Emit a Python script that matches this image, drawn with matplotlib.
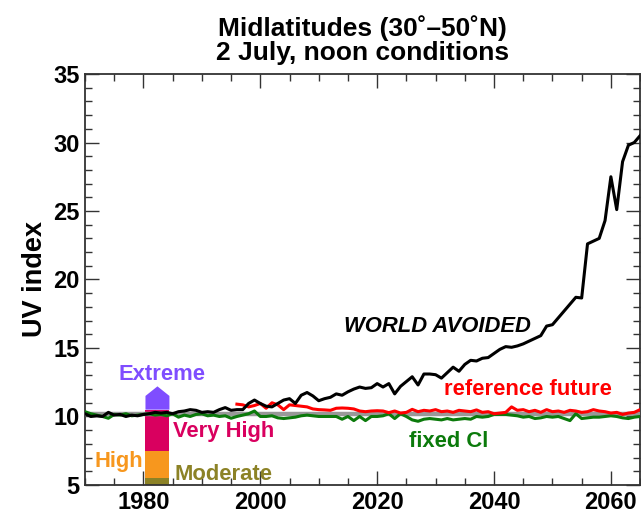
import matplotlib
matplotlib.use("Agg")
import matplotlib.pyplot as plt
from matplotlib.patches import Polygon
from matplotlib.ticker import MultipleLocator
import numpy as np

plt.rcParams['font.family'] = ['Liberation Sans', 'DejaVu Sans']
plt.rcParams['font.weight'] = 'bold'

years = np.arange(1970, 2066)
world_avoided = [
    10.2, 10.0, 10.05, 10.0, 10.3, 10.1, 10.15, 10.0, 10.1, 10.05,
    10.15, 10.2, 10.3, 10.25, 10.3, 10.2, 10.35, 10.4, 10.5, 10.45,
    10.3, 10.35, 10.3, 10.5, 10.65, 10.45, 10.5, 10.5, 10.95, 11.2,
    10.95, 10.75, 10.7, 10.95, 11.2, 11.3, 10.95, 11.55, 11.75, 11.5,
    11.15, 11.3, 11.4, 11.65, 11.55, 11.8, 12.0, 12.15, 12.05, 12.1,
    12.4, 12.15, 12.4, 11.65, 12.2, 12.55, 12.9, 12.3, 13.1, 13.1,
    13.05, 12.8, 13.2, 13.6, 13.3, 13.8, 14.1, 14.05, 14.25, 14.3,
    14.6, 14.9, 15.1, 15.05, 15.15, 15.3, 15.5, 15.7, 15.9, 16.6,
    16.7, 17.2, 17.7, 18.2, 18.7, 18.65, 22.6, 22.8, 23.0, 24.3,
    27.5, 25.1, 28.6, 29.8, 30.0, 30.5]

ref_years = np.arange(1996, 2066)
reference_future = [
    10.9, 10.85, 10.7, 10.8, 10.95, 10.6, 11.0, 10.85, 10.5, 10.85,
    10.8, 10.75, 10.7, 10.55, 10.5, 10.48, 10.45, 10.6, 10.62, 10.6,
    10.55, 10.4, 10.35, 10.4, 10.42, 10.4, 10.28, 10.4, 10.25, 10.3,
    10.52, 10.35, 10.45, 10.4, 10.5, 10.35, 10.4, 10.3, 10.45, 10.4,
    10.35, 10.48, 10.3, 10.35, 10.2, 10.25, 10.3, 10.7, 10.45, 10.5,
    10.35, 10.45, 10.3, 10.5, 10.35, 10.4, 10.3, 10.45, 10.4, 10.3,
    10.35, 10.5, 10.4, 10.35, 10.25, 10.3, 10.15, 10.25, 10.3, 10.5]

fixed_cl = [
    10.35, 10.2, 10.1, 10.0, 9.87, 10.15, 10.1, 10.2, 10.05, 10.1,
    10.15, 10.2, 10.1, 10.15, 10.05, 10.2, 9.95, 10.1, 10.0, 10.15,
    10.2, 10.05, 10.1, 10.0, 10.05, 9.87, 10.0, 10.1, 10.2, 10.4,
    10.0, 10.0, 10.05, 9.9, 9.85, 9.9, 9.95, 10.05, 10.1, 10.05,
    10.0, 10.0, 10.0, 10.0, 9.8, 10.0, 9.7, 10.0, 9.7, 10.0,
    10.0, 10.05, 10.2, 9.85, 10.2, 10.0, 9.75, 9.65, 9.8, 9.85,
    9.8, 9.75, 9.85, 9.75, 9.8, 9.85, 9.8, 10.0, 9.95, 10.0,
    10.15, 10.15, 10.15, 10.1, 10.05, 9.95, 10.0, 9.85, 9.9, 10.0,
    9.95, 10.0, 9.85, 9.7, 10.2, 9.85, 9.9, 9.95, 9.95, 10.0,
    10.05, 10.0, 9.9, 9.85, 9.95, 10.0]

baseline_uv = 10.18

uv_categories = ['Moderate', 'High', 'Very High', 'Extreme']
uv_bounds = [5.0, 5.5, 7.5, 10.5, 11.5]
uv_arrow_tip = 12.2
uv_colors = ['#8C8226', '#F7971E', '#D9005F', '#7F4DFF']
bar_center = 1982.4
bar_width = 4.1

fig = plt.figure(figsize=(6.41, 5.15), dpi=100)
ax = fig.add_axes([0.1326, 0.0583, 0.866, 0.798])

# UV category bar
for i in range(3):
    ax.bar(bar_center, uv_bounds[i + 1] - uv_bounds[i], bottom=uv_bounds[i],
           width=bar_width, color=uv_colors[i], linewidth=0, zorder=2)
x0, x1 = bar_center - bar_width / 2, bar_center + bar_width / 2
arrow = Polygon([(x0, uv_bounds[3]), (x1, uv_bounds[3]), (x1, uv_bounds[4]),
                 (bar_center, uv_arrow_tip), (x0, uv_bounds[4])],
                closed=True, facecolor=uv_colors[3], edgecolor='none', zorder=2)
ax.add_patch(arrow)

ax.axhline(baseline_uv, color='#999999', lw=3.2, zorder=3)
ax.plot(years, fixed_cl, color='#0B7A0B', lw=2.2, zorder=4)
ax.plot(ref_years, reference_future, color='#FF0000', lw=2.2, zorder=5)
ax.plot(years, world_avoided, color='black', lw=2.2, zorder=6)

fs = 15.8
ax.text(2030.3, 16.6, 'WORLD AVOIDED', color='black', fontsize=fs,
        fontweight='bold', style='italic', ha='center', va='center')
ax.text(2045.8, 12.0, 'reference future', color='#FF0000', fontsize=fs,
        fontweight='bold', ha='center', va='center')
ax.text(2032.2, 8.2, 'fixed Cl', color='#0B7A0B', fontsize=fs,
        fontweight='bold', ha='center', va='center')
ax.text(bar_center + 0.8, 13.1, 'Extreme', color=uv_colors[3], fontsize=fs,
        fontweight='bold', ha='center', va='center')
ax.text(1985.0, 8.87, 'Very High', color=uv_colors[2], fontsize=fs,
        fontweight='bold', ha='left', va='center')
ax.text(1979.9, 6.68, 'High', color=uv_colors[1], fontsize=fs,
        fontweight='bold', ha='right', va='center')
ax.text(1985.3, 5.8, 'Moderate', color=uv_colors[0], fontsize=fs,
        fontweight='bold', ha='left', va='center')

ax.set_xlim(1970, 2065)
ax.set_ylim(5, 35)
ax.xaxis.set_major_locator(MultipleLocator(20))
ax.xaxis.set_minor_locator(MultipleLocator(5))
ax.yaxis.set_major_locator(MultipleLocator(5))
ax.yaxis.set_minor_locator(MultipleLocator(1))
ax.tick_params(which='both', direction='in', top=True, right=True,
               labelsize=17, width=1.0, color='#333333', pad=4)
ax.tick_params(which='major', length=10)
ax.tick_params(which='minor', length=5)
for lab in ax.get_xticklabels() + ax.get_yticklabels():
    lab.set_fontweight('bold')
for s in ax.spines.values():
    s.set_linewidth(1.3)
    s.set_color('#333333')

ax.set_ylabel('UV index', fontsize=19.5, fontweight='bold', labelpad=4)
ax.set_title('Midlatitudes (30˚–50˚N)\n2 July, noon conditions',
             fontsize=19, fontweight='bold', pad=10, linespacing=1.0)

fig.savefig('out.png', dpi=100)
